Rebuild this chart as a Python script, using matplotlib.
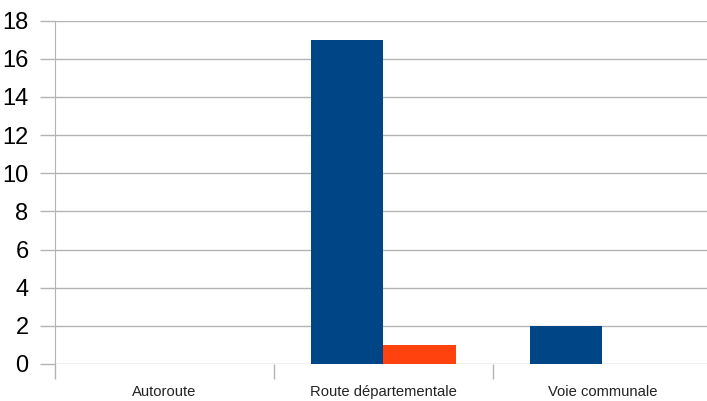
import numpy as np
import matplotlib.pyplot as plt
from matplotlib.ticker import FixedLocator

# data
categories = ['Autoroute', 'Route départementale', 'Voie communale']
serie_bleue = [0, 17, 2]
serie_orange = [0, 1, 0]

plt.rcParams['font.family'] = ['Liberation Sans', 'DejaVu Sans']

W, H = 707, 401
fig = plt.figure(figsize=(W / 100, H / 100), dpi=100)
# axis runs past the right edge of the picture, as in the original
ax = fig.add_axes([55 / W, 1 - 364 / H, (712 - 55) / W, (364 - 20.5) / H])

x = np.arange(len(categories))
w = 0.333
ax.bar(x - w / 2, serie_bleue, width=w, color='#004586', zorder=3)
ax.bar(x + w / 2, serie_orange, width=w, color='#ff420e', zorder=3)

ax.set_xlim(-0.5, len(categories) - 0.5)
ax.set_ylim(0, 18)
ax.set_yticks(range(0, 19, 2))
ax.yaxis.grid(True, color='#b3b3b3', linewidth=1)
ax.set_axisbelow(True)

ax.set_xticks(x)
ax.set_xticklabels(categories, fontsize=10.6, color='#222222')
ax.tick_params(axis='x', which='major', length=0, pad=15)
ax.xaxis.set_minor_locator(FixedLocator(np.arange(-0.5, len(categories), 1)))
ax.tick_params(axis='x', which='minor', length=11, color='#b3b3b3', width=1)
ax.tick_params(axis='y', length=11, color='#b3b3b3', width=1, labelsize=17, pad=8)

for s in ['top', 'right', 'bottom']:
    ax.spines[s].set_visible(False)
ax.spines['left'].set_color('#b3b3b3')

fig.savefig('out.png', dpi=100)
